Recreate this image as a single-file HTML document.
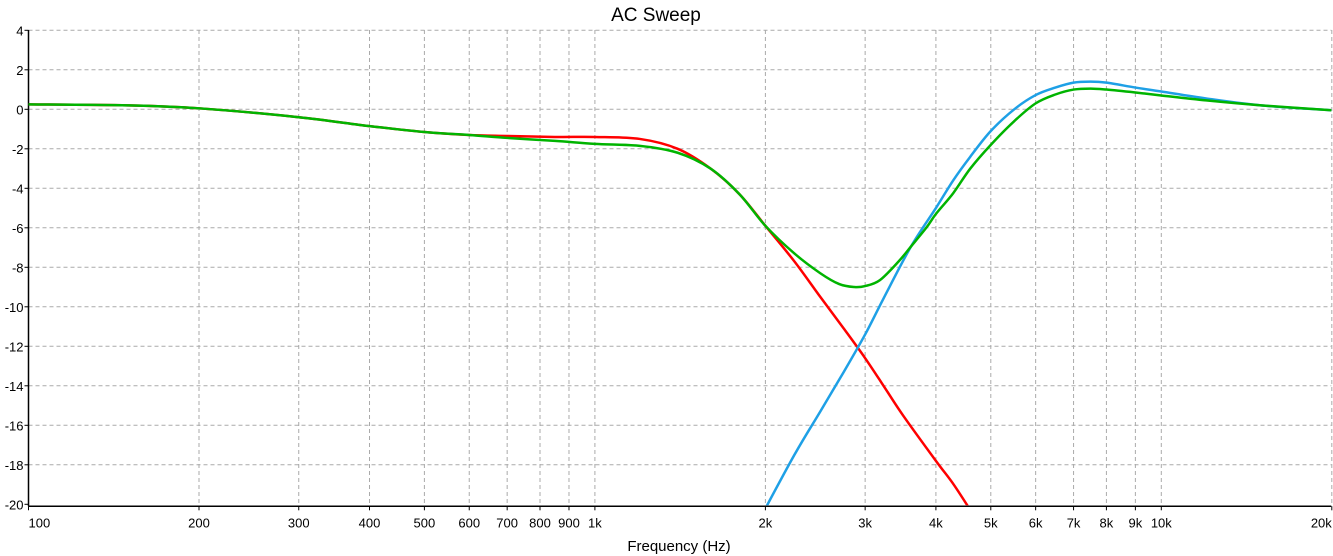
<!DOCTYPE html>
<html><head><meta charset="utf-8"><style>
body{margin:0;background:#fff;}
svg{display:block;font-family:"Liberation Sans",sans-serif;}
</style></head><body>
<svg id="chart" width="1333" height="556">
<text x="656" y="21" text-anchor="middle" font-size="19">AC Sweep</text>
<text x="679" y="551" text-anchor="middle" font-size="15">Frequency (Hz)</text>
<g id="grid"></g><g id="axes"></g><g id="series"></g>
</svg>
<script>
const freqTicks=[100,200,300,400,500,600,700,800,900,1000,2000,3000,4000,5000,6000,7000,8000,9000,10000,20000];
const freqTickLabels=["100","200","300","400","500","600","700","800","900","1k","2k","3k","4k","5k","6k","7k","8k","9k","10k","20k"];
const dbTicks=[4,2,0,-2,-4,-6,-8,-10,-12,-14,-16,-18,-20];
const lowFreq=[100,150,200,300,400,500,600,700,850,1000,1200,1400,1600,1800,2000,2250,2500,2750,3000,3250,3500,4000,4300,4650];
const lowDb=[0.25,0.2,0.05,-0.4,-0.85,-1.15,-1.3,-1.35,-1.4,-1.4,-1.5,-2.0,-3.0,-4.3,-5.9,-7.7,-9.5,-11.1,-12.6,-14.1,-15.5,-17.8,-19.0,-20.5];
const highFreq=[1950,2250,2500,2750,3000,3230,3614,4000,4291,4600,5000,5500,6000,6500,7000,7500,8000,9000,10000,12000,15000,20000];
const highDb=[-20.8,-17.5,-15.3,-13.3,-11.4,-9.6,-6.95,-5.0,-3.6,-2.4,-1.1,0.0,0.72,1.1,1.35,1.4,1.35,1.1,0.9,0.55,0.2,-0.05];
const sumFreq=[100,150,200,300,400,500,600,700,850,1000,1200,1400,1600,1800,2000,2250,2500,2700,2870,3000,3186,3438,3614,3846,4000,4291,4600,5000,5500,6000,6500,7000,7500,8000,9000,10000,12000,15000,20000];
const sumDb=[0.25,0.2,0.05,-0.4,-0.85,-1.15,-1.3,-1.45,-1.6,-1.75,-1.85,-2.2,-3.0,-4.3,-5.9,-7.3,-8.3,-8.85,-9.0,-8.95,-8.65,-7.7,-6.95,-6.0,-5.3,-4.25,-3.0,-1.8,-0.6,0.3,0.75,1.0,1.05,1.0,0.85,0.7,0.45,0.2,-0.05];

const L=28.5,R=1331.3,T=30,B=506.3,DEC=566.4,Y0=109.3,YS=19.75;
const xs=f=>L+DEC*Math.log10(f/100);
const ys=d=>Y0-d*YS;
const NS="http://www.w3.org/2000/svg";
function mk(tag,at,parent){const e=document.createElementNS(NS,tag);for(const k in at)e.setAttribute(k,at[k]);parent.appendChild(e);return e;}
const grid=document.getElementById('grid'),axes=document.getElementById('axes'),series=document.getElementById('series');
dbTicks.forEach((d,i)=>{const y=ys(d);
  if(d>-20){const g=mk('line',{x1:L,x2:R,y1:y,y2:y,stroke:'#aaa','stroke-dasharray':'4,3'},grid);
  
  }
  mk('line',{x1:L-4,x2:L,y1:y,y2:y,stroke:'#000'},axes);
  const t=mk('text',{x:L-5,y:y+5,'text-anchor':'end','font-size':13},axes);t.textContent=d;
  
  
});
freqTicks.forEach((f,i)=>{const x=xs(f);
  if(i>0){const g=mk('line',{x1:x,x2:x,y1:T,y2:B,stroke:'#aaa','stroke-dasharray':'4,3'},grid);
  
  }
  mk('line',{x1:x,x2:x,y1:B,y2:B+4,stroke:'#000'},axes);
  let anchor=i==0?'start':(i==freqTicks.length-1?'end':'middle');
  const t=mk('text',{x:x,y:B+21,'text-anchor':anchor,'font-size':13},axes);t.textContent=freqTickLabels[i];
  
  
});
mk('line',{x1:L,x2:L,y1:T,y2:B,stroke:'#000','stroke-width':1.5},axes);
mk('line',{x1:L,x2:R,y1:B,y2:B,stroke:'#000','stroke-width':1.5},axes);
const cp=mk('clipPath',{id:'clip'},document.getElementById('chart'));
mk('rect',{x:L,y:T-5,width:R-L,height:B-T+4},cp);
function path(fr,db){const p=fr.map((f,i)=>[xs(f),ys(db[i])]);
  let d='M'+p[0][0]+','+p[0][1];
  for(let i=0;i<p.length-1;i++){const p0=p[Math.max(0,i-1)],p1=p[i],p2=p[i+1],p3=p[Math.min(p.length-1,i+2)];
    const c1=[p1[0]+(p2[0]-p0[0])/6,p1[1]+(p2[1]-p0[1])/6],c2=[p2[0]-(p3[0]-p1[0])/6,p2[1]-(p3[1]-p1[1])/6];
    d+=' C'+c1+' '+c2+' '+p2;}
  return d;}
const lp=mk('path',{d:path(lowFreq,lowDb),fill:'none',stroke:'#ff0000','stroke-width':2.5,'clip-path':'url(#clip)'},series);


const hp=mk('path',{d:path(highFreq,highDb),fill:'none',stroke:'#1ea0e6','stroke-width':2.5,'clip-path':'url(#clip)'},series);


const sp=mk('path',{d:path(sumFreq,sumDb),fill:'none',stroke:'#00b400','stroke-width':2.5,'clip-path':'url(#clip)'},series);


</script>
</body></html>
